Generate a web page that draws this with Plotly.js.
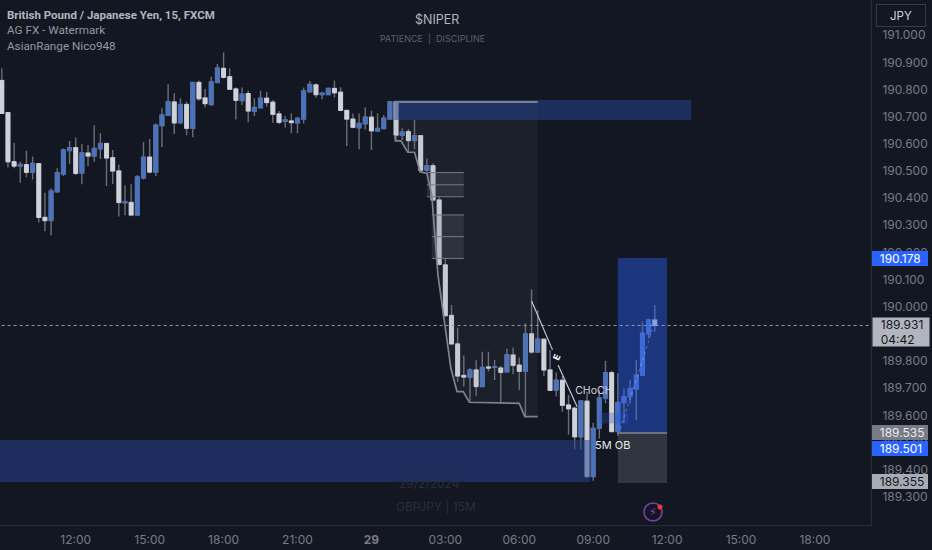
<!DOCTYPE html>
<html><head><meta charset="utf-8">
<script src="https://cdn.plot.ly/plotly-3.0.1.min.js"></script>
<style>html,body{margin:0;padding:0;background:#131722;overflow:hidden}#c{width:932px;height:550px}</style>
</head><body><div id="c"></div>
<script>
const opens=[190.833,190.715,190.534,190.518,190.523,190.495,190.527,190.329,190.317,190.423,190.489,190.575,190.586,190.492,190.566,190.555,190.582,190.601,190.549,190.500,190.383,190.384,190.338,190.474,190.551,190.496,190.667,190.705,190.754,190.677,190.745,190.657,190.826,190.769,190.745,190.826,190.878,190.847,190.802,190.759,190.785,190.720,190.733,190.768,190.753,190.710,190.683,190.684,190.677,190.691,190.792,190.817,190.781,190.781,190.804,190.790,190.723,190.691,190.659,190.674,190.698,190.647,190.656,190.691,190.755,190.631,190.645,190.612,190.630,190.503,190.519,190.393,190.154,189.968,189.863,189.747,189.740,189.767,189.706,189.778,189.777,189.774,189.760,189.822,189.785,189.762,189.900,189.833,189.880,189.767,189.693,189.729,189.638,189.626,189.521,189.652,189.374,189.552,189.664,189.757,189.540,189.647,189.669,189.697,189.748,189.900,189.951];
const highs=[190.878,190.716,190.604,190.534,190.574,190.553,190.528,190.420,190.436,190.510,190.583,190.610,190.623,190.599,190.596,190.668,190.639,190.604,190.577,190.524,190.446,190.451,190.485,190.607,190.618,190.675,190.731,190.819,190.786,190.768,190.755,190.827,190.833,190.802,190.847,190.894,190.936,190.878,190.807,190.807,190.796,190.768,190.795,190.791,190.761,190.721,190.702,190.712,190.700,190.807,190.831,190.823,190.792,190.807,190.833,190.808,190.725,190.712,190.712,190.734,190.722,190.712,190.706,190.756,190.756,190.657,190.655,190.688,190.631,190.546,190.528,190.403,190.179,190.006,189.923,189.820,189.773,189.804,189.834,189.834,189.804,189.782,189.846,189.850,189.813,189.939,190.064,189.988,189.881,189.841,189.758,189.745,189.675,189.632,189.653,189.687,189.573,189.693,189.801,189.764,189.755,189.699,189.730,189.804,189.945,189.957,190.006];
const lows=[190.710,190.513,190.510,190.457,190.477,190.469,190.310,190.278,190.262,190.420,190.481,190.526,190.485,190.451,190.518,190.534,190.544,190.445,190.452,190.332,190.337,190.333,190.338,190.469,190.491,190.481,190.588,190.702,190.636,190.674,190.632,190.624,190.759,190.734,190.739,190.825,190.841,190.800,190.690,190.743,190.679,190.702,190.731,190.737,190.678,190.673,190.659,190.639,190.639,190.675,190.788,190.770,190.764,190.780,190.771,190.722,190.592,190.657,190.580,190.653,190.577,190.646,190.653,190.690,190.614,190.614,190.571,190.580,190.497,190.497,190.392,190.152,189.963,189.859,189.724,189.706,189.648,189.672,189.703,189.761,189.730,189.644,189.757,189.752,189.693,189.596,189.828,189.831,189.745,189.690,189.669,189.613,189.528,189.475,189.475,189.373,189.359,189.515,189.644,189.537,189.524,189.571,189.644,189.583,189.747,189.884,189.908];
const closes=[190.712,190.534,190.518,190.524,190.495,190.528,190.329,190.317,190.426,190.494,190.577,190.586,190.491,190.566,190.555,190.583,190.601,190.548,190.500,190.384,190.387,190.338,190.478,190.551,190.496,190.669,190.706,190.755,190.677,190.745,190.657,190.826,190.766,190.748,190.828,190.879,190.845,190.801,190.760,190.783,190.721,190.734,190.768,190.752,190.709,190.679,190.688,190.678,190.693,190.795,190.819,190.781,190.786,190.804,190.788,190.723,190.691,190.661,190.675,190.698,190.648,190.657,190.694,190.755,190.632,190.643,190.612,190.630,190.503,190.519,190.393,190.156,189.967,189.863,189.745,189.741,189.767,189.706,189.776,189.774,189.779,189.758,189.823,189.784,189.762,189.900,189.833,189.881,189.767,189.692,189.729,189.637,189.624,189.521,189.653,189.374,189.552,189.664,189.757,189.540,189.647,189.669,189.699,189.748,189.902,189.951,189.931];
const priceTicks=[191.0,190.9,190.8,190.7,190.6,190.5,190.4,190.3,190.2,190.1,190.0,189.9,189.8,189.7,189.6,189.5,189.4,189.3];
const timeTickBars=[12,24,36,48,60,72,84,96,108,120,132];
const timeTickLabels=['12:00','15:00','18:00','21:00','<b>29</b>','03:00','06:00','09:00','12:00','15:00','18:00'];
const structureBars=[63.8,63.9,64.8,65.9,67.0,67.9,69.0,69.8,70.8,71.8,72.9,73.9,74.9,75.9,80.9,84.0,84.9,87.0];
const structurePrices=[190.632,190.611,190.611,190.569,190.569,190.497,190.491,190.411,190.117,189.945,189.773,189.687,189.687,189.648,189.644,189.644,189.595,189.595];

const PW=871,PH=525;
const bar=n=>new Date(Date.UTC(2024,1,28,9,0)+n*900000).toISOString().slice(0,19).replace('T',' ');
const times=closes.map((_,i)=>bar(i));
const fx=p=>p/PW, fy=p=>1-p/PH;
const BLUE='#4a72bd',WHITE='#cfd2da',WICK='#6a6e79';

const wicks={type:'candlestick',x:times,open:opens,high:highs,low:lows,close:closes,hoverinfo:'skip',whiskerwidth:0,
  increasing:{line:{color:WICK,width:1.4},fillcolor:WICK},decreasing:{line:{color:WICK,width:1.4},fillcolor:WICK}};
const bodies={type:'candlestick',x:times,open:opens,close:closes,
  high:opens.map((o,i)=>Math.max(o,closes[i])),low:opens.map((o,i)=>Math.min(o,closes[i])),hoverinfo:'skip',whiskerwidth:0,
  increasing:{line:{color:BLUE,width:1},fillcolor:BLUE},decreasing:{line:{color:WHITE,width:1},fillcolor:WHITE}};
const shade={type:'scatter',mode:'none',fill:'toself',fillcolor:'rgba(120,123,134,0.085)',hoverinfo:'skip',
  x:structureBars.concat([87,63.8]).map(bar),y:structurePrices.concat([190.754,190.754])};
const structure={type:'scatter',mode:'lines',x:structureBars.map(bar),y:structurePrices,hoverinfo:'skip',line:{color:'#7f828b',width:1.7}};
const chochLabel={type:'scatter',mode:'text',x:[bar(96.1)],y:[189.687],text:['CHoCH'],textposition:'middle center',hoverinfo:'skip',textfont:{family:'Inter, Roboto, sans-serif',size:10.5,color:'#d1d4dc'}};

const rect=(n0,n1,p0,p1,fill,layer)=>({type:'rect',xref:'x',yref:'y',x0:bar(n0),x1:bar(n1),y0:p0,y1:p1,fillcolor:fill,line:{width:0},layer:layer||'above'});
const hline=(n0,n1,p,color,w,dash)=>({type:'line',xref:'x',yref:'y',x0:bar(n0),x1:bar(n1),y0:p,y1:p,line:{color:color,width:w,dash:dash||'solid'},layer:'above'});
const seg=(n0,p0,n1,p1,color,w,dash)=>({type:'line',xref:'x',yref:'y',x0:bar(n0),x1:bar(n1),y0:p0,y1:p1,line:{color:color,width:w,dash:dash||'solid'},layer:'above'});

const shapes=[
 rect(63.7,111.9,190.761,190.688,'rgba(38,68,150,0.52)'),
 hline(64,87,190.754,'#7d808a',2),
 rect(69,75,190.494,190.405,'rgba(120,123,134,0.2)'),
 rect(69.8,75,190.338,190.178,'rgba(120,123,134,0.2)'),
 hline(69,75,190.494,'#777a84',1),hline(69,75,190.449,'#777a84',1),hline(69,75,190.405,'#777a84',1),
 hline(69.8,75,190.338,'#777a84',1),hline(69.8,75,190.258,'#777a84',1),hline(69.8,75,190.178,'#777a84',1),
 rect(-1,95.5,189.509,189.354,'rgba(38,68,150,0.52)'),
 rect(97,101.7,189.61,189.57,'rgba(41,80,190,0.3)'),
 rect(100,108,190.179,189.535,'rgba(41,98,255,0.42)'),
 rect(100,108,189.535,189.351,'rgba(120,123,134,0.3)'),
 hline(100,108,189.535,'#83868f',1.5),
 hline(-1,142,189.931,'#9598a1',1,'dot'),
 seg(86,190.021,89.4,189.841,'#c3c6ce',1.2),
 seg(90.3,189.785,93.4,189.632,'#c3c6ce',1.2),
 seg(100.4,189.55,105.6,189.915,'rgba(255,255,255,0.28)',1,'dot'),
 {type:'circle',xref:'paper',yref:'paper',x0:fx(644),x1:fx(662),y0:fy(521),y1:fy(503),line:{color:'#7e3ea8',width:1.6},fillcolor:'rgba(0,0,0,0)'},
 {type:'circle',xref:'paper',yref:'paper',x0:fx(657.5),x1:fx(662.5),y0:fy(509.5),y1:fy(504.5),line:{width:0},fillcolor:'#f23645'}
];

const UI='Inter, Roboto, sans-serif';
const txt=(x,y,t,size,color,anchor,extra)=>Object.assign({xref:'paper',yref:'paper',x:fx(x),y:fy(y),text:t,showarrow:false,xanchor:anchor||'left',yanchor:'middle',font:{family:UI,size:size,color:color}},extra||{});
const PAD='\u00a0\u00a0';
const tag=(p,t,bg,color,extra)=>Object.assign({xref:'paper',yref:'y',x:fx(872),y:p,text:PAD+t,showarrow:false,xanchor:'left',yanchor:'middle',width:54,height:13,align:'left',bgcolor:bg,borderpad:1,borderwidth:0,font:{family:UI,size:12,color:color}},extra||{});

const annotations=[
 txt(5,15,'<b>British Pound / Japanese Yen, 15, FXCM</b>',12,'#b2b5be','left',{font:{family:'Roboto',size:11.5,color:'#b2b5be'}}),
 txt(5,30,'AG FX - Watermark',12,'#9598a1','left',{font:{family:'Roboto',size:11.7,color:'#9598a1'}}),
 txt(5,46,'AsianRange Nico948',12,'#9598a1','left',{font:{family:'Roboto',size:11.7,color:'#9598a1'}}),
 txt(436.5,20,'$NIPER',12.5,'#b2b5be','center'),
 txt(432,38,'PATIENCE  |  DISCIPLINE',9,'#5d606b','center'),
 txt(429,483,'29/2/2024',12,'#2a2e39','center'),
 txt(436,506,'GBPJPY | 15M',12,'#2a2e39','center'),
 txt(612,445,'5M OB',11,'#e8e9ec','center'),
 {xref:'x',yref:'y',x:bar(90),y:189.813,text:'<b>E</b>',textangle:-65,showarrow:false,font:{family:UI,size:9,color:'#ffffff'}},
 txt(653,512,'⚡',11,'#8e44c0','center',{font:{family:'DejaVu Sans',size:11,color:'#8e44c0'}}),
 tag(190.178,'190.178','#2962ff','#ffffff'),
 tag(189.535,'189.535','#787b86','#e8e9ec'),
 tag(189.501,'189.501','#2962ff','#ffffff',{yshift:-6.5}),
 tag(189.355,'189.355','#a8abb5','#131722'),
 {xref:'paper',yref:'y',x:fx(872),y:189.931-0.023,text:PAD+'189.931<br>'+PAD+'04:42',showarrow:false,xanchor:'left',yanchor:'middle',width:54,height:26,align:'left',bgcolor:'#b2b5be',borderpad:1,font:{family:UI,size:12,color:'#131722'}},
 txt(901,16,'JPY',11.5,'#d1d4dc','center',{width:46,height:19,bordercolor:'#363a45',borderwidth:1,bgcolor:'#131722'})
];

Plotly.newPlot('c',[wicks,bodies,shade,structure,chochLabel],{
  width:932,height:550,paper_bgcolor:'#131722',plot_bgcolor:'#131722',showlegend:false,
  margin:{l:0,r:61,t:0,b:25,pad:0},
  font:{family:UI,color:'#787b86',size:12},
  xaxis:{type:'date',range:[bar(-0.292),bar(141.1)],rangeslider:{visible:false},tickmode:'array',tickvals:timeTickBars.map(bar),ticktext:timeTickLabels,
    showgrid:false,zeroline:false,showline:true,linecolor:'#2a2e39',linewidth:1,ticks:'outside',ticklen:4,tickcolor:'rgba(0,0,0,0)',tickfont:{family:UI,size:12,color:'#787b86'},fixedrange:true},
  yaxis:{side:'right',range:[189.196,191.1297],tickmode:'array',tickvals:priceTicks,ticktext:priceTicks.map(v=>v.toFixed(3)),
    showgrid:false,zeroline:false,showline:true,linecolor:'#2a2e39',linewidth:1,ticks:'outside',ticklen:8,tickcolor:'rgba(0,0,0,0)',tickfont:{family:UI,size:12,color:'#787b86'},fixedrange:true},
  boxgap:0.12,shapes:shapes,annotations:annotations
},{displayModeBar:false,staticPlot:true});
</script></body></html>
